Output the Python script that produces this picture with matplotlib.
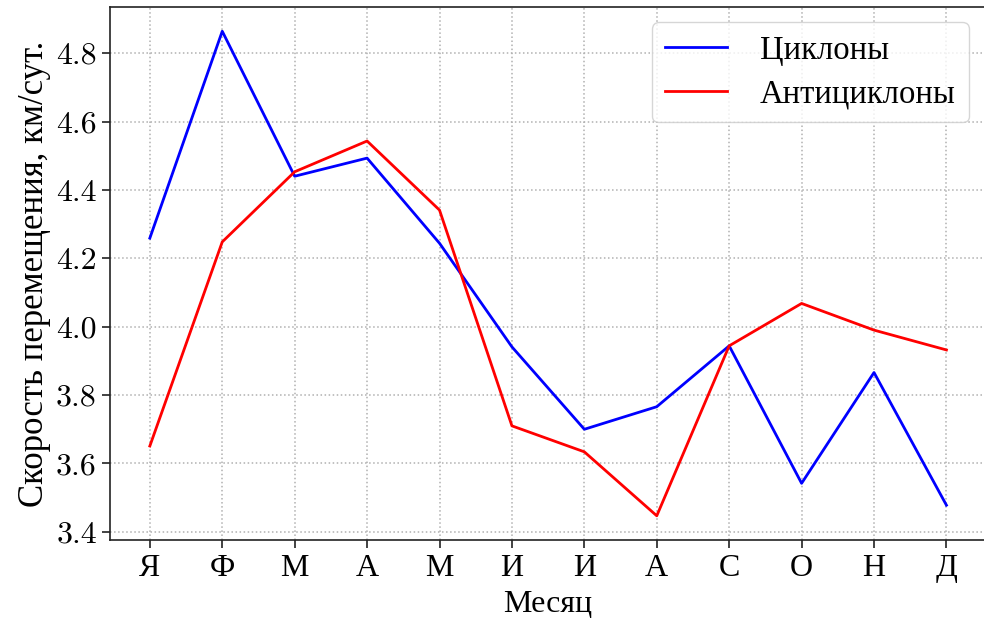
import matplotlib
matplotlib.use("Agg")
import matplotlib.pyplot as plt
from matplotlib.ticker import FixedLocator, FuncFormatter

# Средняя скорость перемещения барических образований по месяцам
months = ["Я", "Ф", "М", "А", "М", "И", "И", "А", "С", "О", "Н", "Д"]
cyclones = [4.259, 4.864, 4.440, 4.493, 4.244, 3.941, 3.700, 3.766, 3.944, 3.542, 3.866, 3.478]
anticyclones = [3.651, 4.248, 4.453, 4.543, 4.341, 3.710, 3.634, 3.447, 3.944, 4.068, 3.990, 3.932]

cyr = "Liberation Serif"
num = ["cmr10", "DejaVu Serif"]

fig = plt.figure(figsize=(9.84, 6.21), dpi=100)
ax = fig.add_axes([0.1118, 0.1304, 0.8905, 0.8583])

x = list(range(len(months)))
ax.plot(x, cyclones, color="#0000ff", linewidth=2, label="Циклоны")
ax.plot(x, anticyclones, color="#ff0000", linewidth=2, label="Антициклоны")

ax.set_xticks(x)
ax.set_xticklabels(months, fontsize=23, family=cyr)
ax.yaxis.set_major_locator(FixedLocator([3.4, 3.6, 3.8, 4.0, 4.2, 4.4, 4.6, 4.8]))
ax.yaxis.set_major_formatter(FuncFormatter(lambda v, p: f"{v:.1f}"))
for lab in ax.get_yticklabels():
    lab.set_family(num)
    lab.set_fontsize(23)

ax.tick_params(axis="both", length=6, width=1.2, color="#222222")
ax.tick_params(axis="x", pad=4)

ax.set_xlabel("Месяц", fontsize=23, family=cyr, labelpad=5)
ax.set_ylabel("Скорость перемещения, км/сут.", fontsize=25, family=cyr, labelpad=4)

ax.grid(True, linestyle=":", color="#b0b0b0", linewidth=1.1)
for s in ax.spines.values():
    s.set_color("#222222")
    s.set_linewidth(1.2)

leg = ax.legend(loc="upper right", prop={"family": cyr, "size": 23.5},
                handlelength=1.9, handletextpad=1.0, borderpad=0.4,
                labelspacing=0.4, bbox_to_anchor=(0.9985, 1.002))

fig.savefig("out.png", dpi=100)
